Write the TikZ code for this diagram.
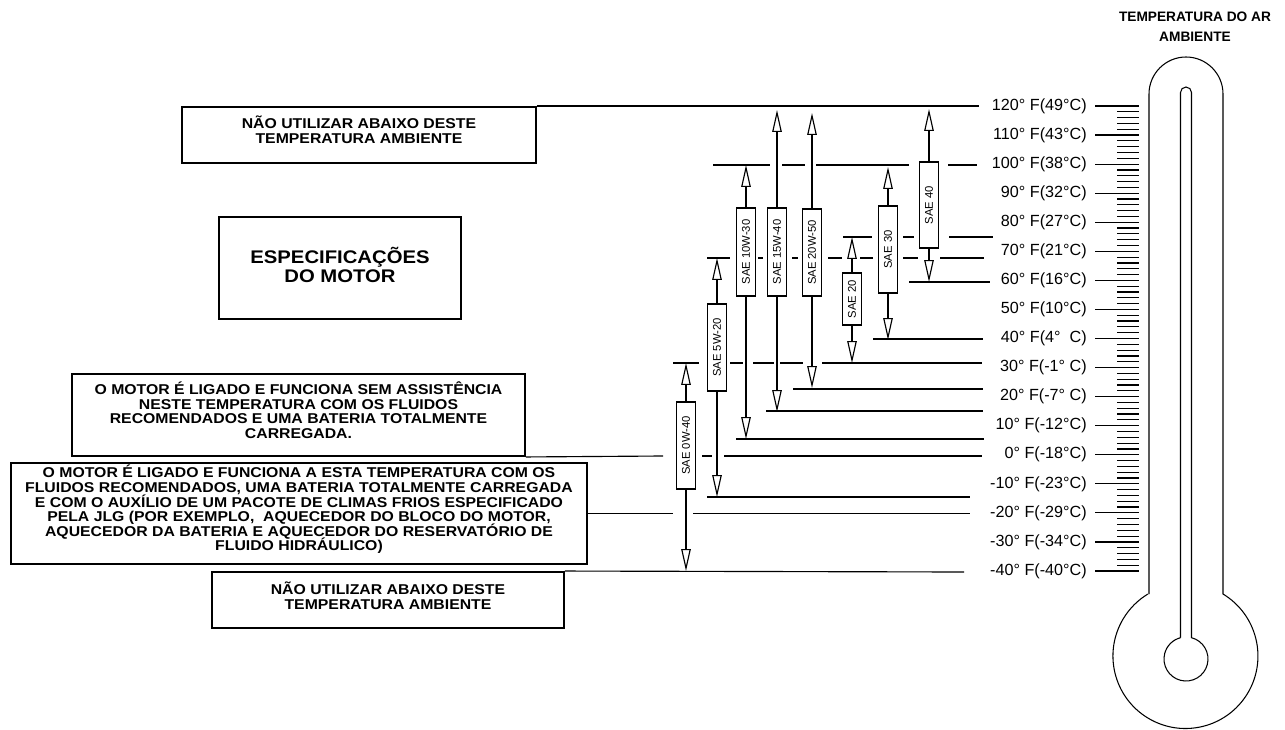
\documentclass[tikz,border=0pt]{standalone}
\usepackage{fontspec}
\setmainfont{Liberation Sans}
\newfontfamily\wideface[FakeStretch=1.11]{Liberation Sans}
\usepackage{graphicx}
\usetikzlibrary{arrows.meta}

\newcommand\panelfont{\wideface\bfseries\fontsize{8.1}{8.3}\selectfont\lineskiplimit=-20pt\relax}

\begin{document}
\begin{tikzpicture}[x=0.02cm, y=-0.02cm,
  level/.style={line width=0.65pt},
  panel/.style={draw, line width=1.1pt, inner sep=0pt},
  paneltext/.style={align=center, inner sep=0pt, font=\panelfont},
  oilbox/.style={draw, line width=0.7pt, fill=white, inner sep=0pt, minimum width=0.39cm,
    font=\fontsize{6.4}{7}\selectfont},
  gradearrow/.style={line width=0.65pt, -{Triangle[open, length=12.5pt, width=5.4pt]}},
  degree/.style={anchor=east, inner sep=0pt, font=\fontsize{9.2}{10}\selectfont}]

\useasboundingbox (0,0) rectangle (1285,730);

% text panels on the left
\node [panel, minimum width=7.08cm, minimum height=1.12cm] (hotLimit) at (359,135) {};
\node [paneltext] (hotLimitText) at ([yshift=0.1cm]hotLimit.center)
  {NÃO UTILIZAR ABAIXO DESTE\\TEMPERATURA AMBIENTE};

\node [panel, minimum width=4.84cm, minimum height=2.04cm] (engine) at (340,268) {};
\node [paneltext, font=\wideface\bfseries\fontsize{10.4}{11.3}\selectfont] (engineText)
  at ([yshift=0.06cm]engine.center) {ESPECIFICAÇÕES\\DO MOTOR};

\node [panel, minimum width=9.06cm, minimum height=1.64cm] (unaided) at (298.5,415) {};
\node [paneltext] (unaidedText) at ([yshift=0.1cm]unaided.center)
  {O MOTOR É LIGADO E FUNCIONA SEM ASSISTÊNCIA\\
   NESTE TEMPERATURA COM OS FLUIDOS\\
   RECOMENDADOS E UMA BATERIA TOTALMENTE\\
   CARREGADA.};

\node [panel, minimum width=11.52cm, minimum height=2.02cm] (coldPack) at (299,513.5) {};
\node [paneltext] (coldPackText) at ([yshift=0.08cm]coldPack.center)
  {O MOTOR É LIGADO E FUNCIONA A ESTA TEMPERATURA COM OS\\
   FLUIDOS RECOMENDADOS, UMA BATERIA TOTALMENTE CARREGADA\\
   E COM O AUXÍLIO DE UM PACOTE DE CLIMAS FRIOS ESPECIFICADO\\
   PELA JLG (POR EXEMPLO,~ AQUECEDOR DO BLOCO DO MOTOR,\\
   AQUECEDOR DA BATERIA E AQUECEDOR DO RESERVATÓRIO DE\\
   FLUIDO HIDRÁULICO)};

\node [panel, minimum width=7.04cm, minimum height=1.12cm] (coldLimit) at (388,600) {};
\node [paneltext] (coldLimitText) at ([yshift=0.08cm]coldLimit.center)
  {NÃO UTILIZAR ABAIXO DESTE\\TEMPERATURA AMBIENTE};

% temperature lines, broken where the bars cross
\draw [level] (hotLimit.north east) -- ++(442,0);
\draw [level] (unaided.south east) -- (663,456);
\draw [level] (coldPack.east) -- (673,513.5);
\draw [level] (coldLimit.north east) -- (964,572);

\foreach \y/\a/\b in {165/713/770, 165/782/805, 165/816/909, 165/948/977,
    237/843/872, 237/903/914, 237/949/993,
    258/707/730, 258/758/763, 258/792/798, 258/828/842, 258/860/873, 258/903/918, 258/940/984,
    282/909/990, 339/873/983,
    363/673/699, 363/730/743, 363/753/774, 363/780/803, 363/822/982,
    389/793/983, 411/766/983, 439/736/984,
    456/702/712, 456/724/982,
    497/707/970, 513.5/693/970}
  \draw [level] (\a,\y) -- (\b,\y);

% oil grades
\foreach \name/\grade/\x/\yc/\h/\hi/\lo in {
    sae0w40/SAE 0W-40/686/445.5/1.74/363/571,
    sae5w20/SAE 5W-20/717/347.5/1.74/258/497,
    sae10w30/SAE 10W-30/746/252/1.76/165/439,
    sae15w40/SAE 15W-40/777/252/1.76/110/412,
    sae20w50/SAE 20W-50/812/252.5/1.74/113/388,
    sae20/SAE 20/852/299/1.04/237/363,
    sae30/SAE 30/888/249.5/1.74/167/340,
    sae40/SAE 40/929/205/1.72/109/282}
{
  \node [oilbox, minimum height=\h cm] (\name) at (\x,\yc) {\rotatebox{90}{\grade}};
  \coordinate (\name-hi) at (\x,\hi);
  \coordinate (\name-lo) at (\x,\lo);
  \draw [gradearrow] (\name.north) -- (\name-hi);
  \draw [gradearrow] (\name.south) -- (\name-lo);
}

% scale
\foreach \t [count=\i from 0] in {{120° F(49°C)}, {110° F(43°C)}, {100° F(38°C)},
    {90° F(32°C)}, {80° F(27°C)}, {70° F(21°C)}, {60° F(16°C)}, {50° F(10°C)},
    {40° F(4°~~C)}, {30° F(-1°~C)}, {20° F(-7°~C)}, {10° F(-12°C)}, {0° F(-18°C)},
    {-10° F(-23°C)}, {-20° F(-29°C)}, {-30° F(-34°C)}, {-40° F(-40°C)}}
{
  \node [degree] (deg\i) at (1087,{106+\i*29.0625}) {\t};
  \draw [level] ([xshift=0.16cm]deg\i.east) -- (1139,{106+\i*29.0625});
}
\foreach \k in {0,...,80}
  \draw [level] (1117,{106+\k*5.8125}) -- (1139,{106+\k*5.8125});

% thermometer
\node [align=center, inner sep=0pt, font=\bfseries\fontsize{7.8}{11.3}\selectfont] (airTemp)
  at (1195,27) {TEMPERATURA DO AR\\AMBIENTE};

\draw [line width=0.6pt] (1149,594) -- (1149,94) arc[start angle=180, end angle=360, radius=37]
  -- (1223,594) arc[start angle=-58.8, end angle=238.8, radius=72.5];
\draw [line width=0.6pt] (1180.5,637.7) -- (1180.5,92.5) arc[start angle=180, end angle=360, radius=5.5]
  -- (1191.5,637.7) arc[start angle=-75.5, end angle=255.5, radius=22];

\end{tikzpicture}
\end{document}
